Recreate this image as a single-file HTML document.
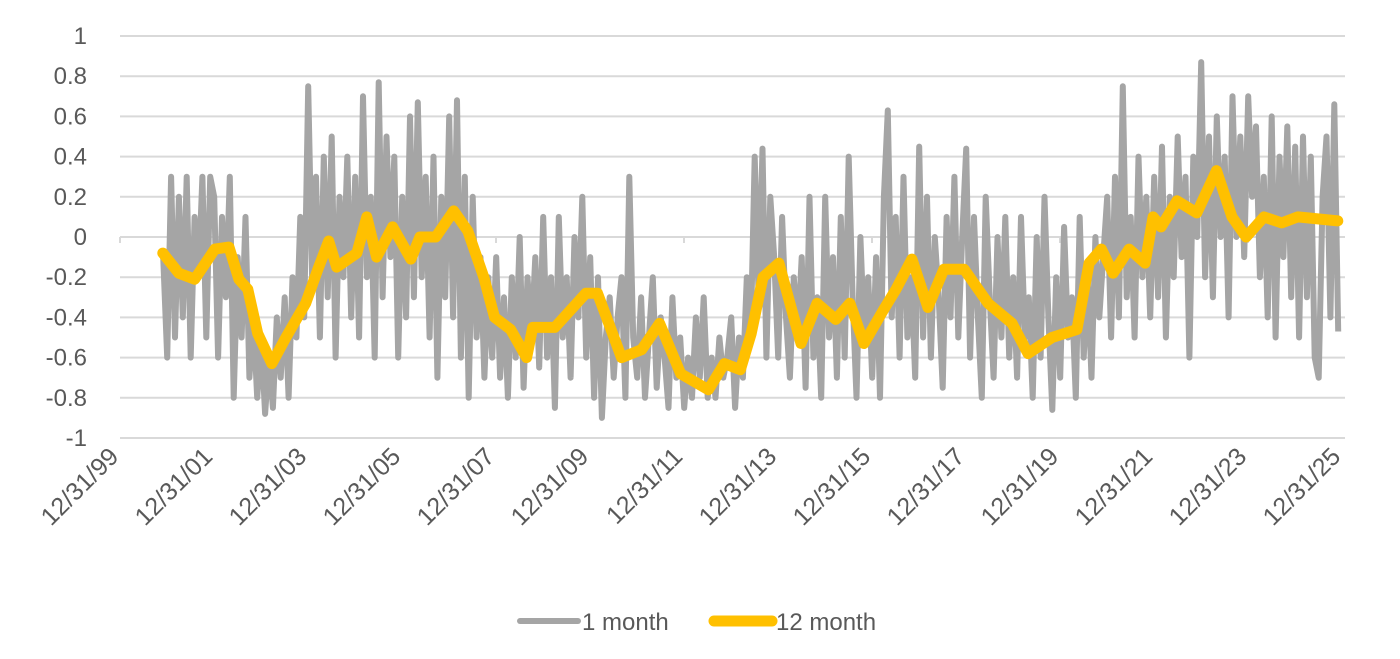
<!DOCTYPE html>
<html><head><meta charset="utf-8">
<style>
html,body{margin:0;padding:0;background:#fff;}
svg{display:block;font-family:"Liberation Sans",sans-serif;}
</style></head>
<body>
<svg id="chart" width="1400" height="659" viewBox="0 0 1400 659" xmlns="http://www.w3.org/2000/svg">
<g id="grid"></g>
<g id="yaxis"></g>
<g id="xaxis"></g>
<g id="series"></g>
<g>
  <g>
    <line x1="520" y1="621" x2="578" y2="621" stroke="#a5a5a5" stroke-width="6" stroke-linecap="round"/>
    <text x="582" y="630" font-size="24" fill="#595959">1 month</text>
  </g>
  <g>
    <line x1="714" y1="621" x2="772" y2="621" stroke="#ffc000" stroke-width="11" stroke-linecap="round"/>
    <text x="776" y="630" font-size="24" fill="#595959">12 month</text>
  </g>
</g>
</svg>
<script>
const yTicks = [1,0.8,0.6,0.4,0.2,0,-0.2,-0.4,-0.6,-0.8,-1];
const yTickLabels = ["1","0.8","0.6","0.4","0.2","0","-0.2","-0.4","-0.6","-0.8","-1"];
const xTickYears = [2000,2002,2004,2006,2008,2010,2012,2014,2016,2018,2020,2022,2024,2026];
const xTickLabels = ["12/31/99","12/31/01","12/31/03","12/31/05","12/31/07","12/31/09","12/31/11","12/31/13","12/31/15","12/31/17","12/31/19","12/31/21","12/31/23","12/31/25"];
const oneMonthStart = 2000.92;
const oneMonth = [
-0.1,
-0.6,0.3,-0.5,0.2,-0.4,0.3,-0.6,0.1,-0.2,0.3,-0.5,0.3,
0.2,-0.6,0.1,-0.3,0.3,-0.8,-0.1,-0.5,0.1,-0.7,-0.4,-0.8,
-0.5,-0.88,-0.6,-0.85,-0.4,-0.7,-0.3,-0.8,-0.2,-0.5,0.1,-0.4,
0.75,-0.2,0.3,-0.5,0.4,-0.3,0.5,-0.6,0.2,-0.2,0.4,-0.4,
0.3,-0.5,0.7,-0.2,0.2,-0.6,0.77,-0.3,0.5,-0.1,0.4,-0.6,
0.2,-0.4,0.6,-0.3,0.67,-0.2,0.3,-0.5,0.4,-0.7,0.2,-0.3,
0.6,-0.4,0.68,-0.6,0.3,-0.8,0.2,-0.5,-0.1,-0.7,-0.2,-0.6,
-0.1,-0.7,-0.3,-0.8,-0.2,-0.6,0.0,-0.75,-0.2,-0.5,-0.1,-0.65,
0.1,-0.6,-0.2,-0.85,0.1,-0.5,-0.2,-0.7,0.0,-0.4,0.2,-0.6,
-0.1,-0.8,-0.2,-0.9,-0.5,-0.3,-0.7,-0.4,-0.2,-0.8,0.3,-0.5,
-0.7,-0.3,-0.8,-0.5,-0.2,-0.75,-0.4,-0.6,-0.85,-0.3,-0.7,-0.5,
-0.85,-0.6,-0.8,-0.4,-0.7,-0.3,-0.8,-0.6,-0.8,-0.5,-0.7,-0.6,
-0.4,-0.85,-0.5,-0.7,-0.2,-0.5,0.4,-0.3,0.44,-0.6,0.2,-0.1,
-0.6,0.1,-0.4,-0.7,-0.2,-0.5,-0.1,-0.75,0.2,-0.6,-0.3,-0.8,
0.2,-0.5,-0.1,-0.7,0.1,-0.6,0.4,-0.3,-0.8,0.0,-0.5,-0.2,
-0.7,-0.1,-0.8,0.2,0.63,-0.4,0.1,-0.6,0.3,-0.5,-0.2,-0.7,
0.45,-0.5,0.2,-0.6,0.0,-0.3,-0.75,0.1,-0.4,0.3,-0.5,0.0,
0.44,-0.6,0.1,-0.4,-0.8,0.2,-0.3,-0.7,0.0,-0.5,0.1,-0.6,
-0.2,-0.7,0.1,-0.5,-0.3,-0.8,0.0,-0.6,0.2,-0.4,-0.86,-0.2,
-0.7,0.05,-0.5,-0.3,-0.8,0.1,-0.6,-0.2,-0.7,0.0,-0.4,-0.1,
0.2,-0.5,0.3,-0.4,0.75,-0.3,0.1,-0.5,0.4,-0.2,0.2,-0.4,
0.3,-0.3,0.45,-0.5,0.2,-0.2,0.5,-0.1,0.3,-0.6,0.4,0.0,
0.87,-0.2,0.5,-0.3,0.6,0.0,0.4,-0.4,0.7,0.0,0.5,-0.1,
0.7,0.2,0.55,-0.2,0.3,-0.4,0.6,-0.5,0.4,-0.1,0.55,-0.3,
0.45,-0.5,0.5,-0.3,0.4,-0.6,-0.7,0.2,0.5,-0.4,0.66,-0.47
];
const twelveMonthYears = [2000.91,2001.25,2001.59,2002.02,2002.32,2002.53,2002.72,2002.93,2003.23,2003.53,2003.95,2004.21,2004.44,2004.61,2005.04,2005.25,2005.46,2005.80,2006.19,2006.38,2006.72,2007.10,2007.40,2007.74,2007.97,2008.31,2008.65,2008.78,2009.25,2009.91,2010.16,2010.67,2011.10,2011.48,2011.93,2012.52,2012.86,2013.20,2013.43,2013.68,2014.02,2014.49,2014.83,2015.23,2015.53,2015.83,2016.25,2016.51,2016.85,2017.19,2017.53,2017.96,2018.47,2018.98,2019.32,2019.83,2020.36,2020.62,2020.88,2021.13,2021.47,2021.81,2021.98,2022.15,2022.49,2022.91,2023.33,2023.66,2023.96,2024.34,2024.72,2025.06,2025.91];
const twelveMonth = [-0.08,-0.18,-0.21,-0.06,-0.05,-0.21,-0.26,-0.48,-0.63,-0.50,-0.33,-0.16,-0.02,-0.15,-0.08,0.10,-0.10,0.05,-0.11,0.0,0.0,0.13,0.03,-0.20,-0.40,-0.46,-0.60,-0.45,-0.45,-0.28,-0.28,-0.60,-0.56,-0.43,-0.68,-0.76,-0.63,-0.66,-0.48,-0.20,-0.13,-0.53,-0.33,-0.41,-0.33,-0.53,-0.36,-0.26,-0.11,-0.35,-0.16,-0.16,-0.33,-0.43,-0.58,-0.50,-0.46,-0.13,-0.06,-0.18,-0.06,-0.13,0.10,0.05,0.18,0.12,0.33,0.10,0.0,0.10,0.07,0.10,0.08];

const NS="http://www.w3.org/2000/svg";
const X0=120, X1=1342, Y0=237, YUNIT=201;
function xScale(yr){return X0+(yr-2000)*(X1-X0)/26;}
function yScale(v){return Y0 - v*YUNIT;}
function mk(tag,attrs,parent){const e=document.createElementNS(NS,tag);for(const k in attrs)e.setAttribute(k,attrs[k]);parent.appendChild(e);return e;}

const grid=document.getElementById('grid'), yaxis=document.getElementById('yaxis'), xaxis=document.getElementById('xaxis'), series=document.getElementById('series');
yTicks.forEach((v,i)=>{
  if(v!==0){
    const l=mk('line',{x1:X0,x2:1345,y1:yScale(v),y2:yScale(v),stroke:'#d9d9d9','stroke-width':2},grid);
    
    
  }
  const t=mk('text',{x:87,y:yScale(v)+8,'text-anchor':'end','font-size':24,fill:'#595959'},yaxis);
  t.textContent=yTickLabels[i];
  
  
});
const zl=mk('line',{x1:X0,x2:1345,y1:Y0,y2:Y0,stroke:'#d9d9d9','stroke-width':2},xaxis);


[2000,2004,2008,2012,2016,2020,2024].forEach(yr=>{
  const tk=mk('line',{x1:xScale(yr),x2:xScale(yr),y1:Y0,y2:Y0+6,stroke:'#d9d9d9','stroke-width':2},xaxis);
  
  
});
xTickYears.forEach((yr,i)=>{
  const x=xScale(yr), y=458;
  const t=mk('text',{x:x,y:y,'text-anchor':'end','font-size':25,fill:'#595959',transform:`rotate(-45 ${x} ${y})`},xaxis);
  t.textContent=xTickLabels[i];
  
  
});
const p1=oneMonth.map((v,i)=>`${i?'L':'M'}${xScale(oneMonthStart+i/12).toFixed(1)},${yScale(v).toFixed(1)}`).join(' ');
const s1=mk('path',{d:p1,fill:'none',stroke:'#a5a5a5','stroke-width':6,'stroke-linejoin':'round'},series);


const p2=twelveMonth.map((v,i)=>`${i?'L':'M'}${xScale(twelveMonthYears[i]).toFixed(1)},${yScale(v).toFixed(1)}`).join(' ');
const s2=mk('path',{d:p2,fill:'none',stroke:'#ffc000','stroke-width':11,'stroke-linejoin':'round','stroke-linecap':'round'},series);


</script>
</body></html>
